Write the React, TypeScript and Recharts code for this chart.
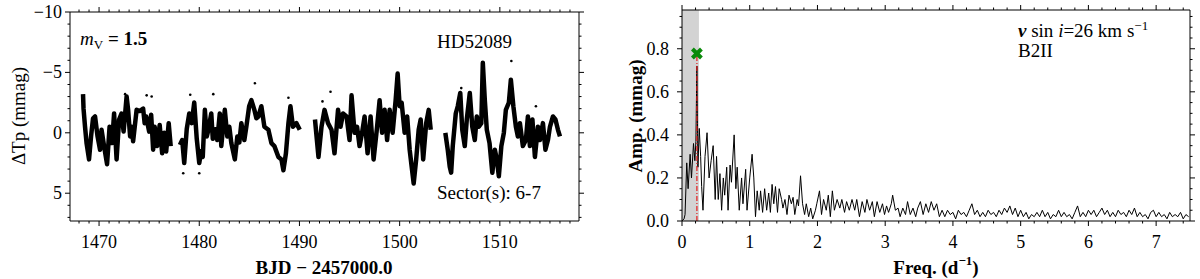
import {
  ComposedChart,
  Line,
  Scatter,
  XAxis,
  YAxis,
  ReferenceArea,
  ReferenceLine,
} from "recharts";

const SERIF = '"Liberation Serif", "DejaVu Serif", "Times New Roman", serif';

// light curve, BJD - 2457000 vs delta Tp (mmag), one array per orbit
const SEG_1: [number, number][] = [
  [1468.4, -3.2], [1468.45, -2.0], [1468.6, -0.5], [1468.76, 0.9], [1469.0, 2.2],
  [1469.2, 0.3], [1469.4, -1.2], [1469.6, -1.35], [1469.85, 0.3], [1470.1, 1.4],
  [1470.25, -0.25], [1470.5, 1.1], [1470.8, 2.6], [1471.05, -0.5], [1471.3, 0.85],
  [1471.5, -1.6], [1471.75, 2.2], [1472.0, -1.1], [1472.25, -1.6], [1472.45, -0.1],
  [1472.75, -3.0], [1472.9, -1.9], [1473.1, 0.3], [1473.25, -0.5], [1473.4, 0.7],
  [1473.75, -1.9], [1474.05, -1.8], [1474.4, -2.0], [1474.55, -0.8], [1474.7, -1.35],
  [1475.0, -0.1], [1475.2, -1.5], [1475.4, 1.4], [1475.55, -0.5], [1475.8, 1.1],
  [1476.05, -0.65], [1476.3, 1.7], [1476.5, 0], [1476.7, 1.55], [1476.95, -0.8],
  [1477.15, 1.1],
];
const SEG_2: [number, number][] = [
  [1478.07, 1.0], [1478.3, 0.6], [1478.5, 2.5], [1478.75, -0.3], [1479.0, -1.6],
  [1479.25, -0.8], [1479.5, -2.5], [1479.75, 0.5], [1480.0, 2.5], [1480.2, 1.5],
  [1480.35, 2.0], [1480.56, -1.9], [1480.75, 0.3], [1480.9, -0.2], [1481.2, -1.6],
  [1481.35, 0.5], [1481.6, -0.3], [1481.8, 0.6], [1482.05, -1.6], [1482.2, 1.1],
  [1482.35, -0.2], [1482.55, -1.9], [1482.8, 0.3], [1483.0, -0.5], [1483.2, 0.85],
  [1483.55, 2.2], [1483.8, 0.3], [1484.0, 0.8], [1484.2, -0.8], [1484.5, 0.6],
  [1484.7, -0.5], [1484.98, -2.2], [1485.2, -2.7], [1485.5, -1.9], [1485.7, -1.2],
  [1485.9, -1.35], [1486.2, -2.2], [1486.5, -0.5], [1486.9, -0.25], [1487.2, 0.85],
  [1487.5, 1.1], [1487.9, 2.0], [1488.2, 2.2], [1488.4, 3.1], [1488.65, 1.7],
  [1488.9, -0.8], [1489.1, -2.2], [1489.35, -0.5], [1489.7, -0.8], [1490.03, -0.25],
];
const SEG_3: [number, number][] = [
  [1491.55, -1.1], [1491.9, 2.0], [1492.2, -0.5], [1492.5, -1.9], [1492.85, -0.8],
  [1493.2, -0.25], [1493.5, 1.7], [1493.85, -1.9], [1494.1, -0.5], [1494.35, -1.6],
  [1494.7, -1.35], [1495.0, 0.6], [1495.2, -3.1], [1495.5, 0], [1495.75, -0.5],
  [1496.0, 1.1], [1496.25, 0], [1496.5, -1.35], [1496.8, 1.7], [1497.1, -1.35],
  [1497.4, 2.2], [1497.75, -0.5], [1498.0, -2.7], [1498.25, 0], [1498.5, -1.9],
  [1498.75, 0.6], [1499.0, -1.9], [1499.3, 0], [1499.6, -2.7], [1499.8, -4.9],
  [1500.0, -2.2], [1500.2, -2.5], [1500.5, 0], [1500.75, -1.35], [1501.0, 1.4],
  [1501.2, 2.8], [1501.4, 4.2], [1501.65, 2.2], [1501.9, -0.25], [1502.1, -1.1],
  [1502.35, 2.2], [1502.65, -0.8], [1502.9, -1.9], [1503.1, -0.25],
];
const SEG_4: [number, number][] = [
  [1504.56, 0], [1504.8, 1.4], [1505.0, 2.8], [1505.14, 3.3], [1505.3, 1.1],
  [1505.6, -1.6], [1505.8, -2.2], [1506.05, -3.3], [1506.25, -0.25], [1506.5, 1.1],
  [1506.7, -1.1], [1507.0, -3.3], [1507.25, -0.5], [1507.5, 0.6], [1507.7, -1.35],
  [1507.9, -0.5], [1508.15, -0.8], [1508.3, -5.8], [1508.5, -2.7], [1508.7, -0.25],
  [1508.97, 0.85], [1509.25, 3.3], [1509.5, 1.4], [1509.7, 2.2], [1509.9, 3.6],
  [1510.15, 1.1], [1510.4, 0], [1510.6, -1.9], [1510.9, -2.5], [1511.1, -4.4],
  [1511.35, -2.2], [1511.6, -0.5], [1511.8, 0.3], [1512.0, -0.8], [1512.3, 1.1],
  [1512.6, 0.6], [1512.8, -1.35], [1513.0, 1.1], [1513.25, -1.1], [1513.5, 2.0],
  [1513.8, -0.5], [1514.0, 0.6], [1514.3, -0.8], [1514.55, 1.4], [1514.8, 0.6],
  [1515.0, -0.5], [1515.3, -1.35], [1515.55, -1.1], [1515.8, -0.25], [1516.0, 0.3],
];
// isolated points away from the band
const OUTLIERS: [number, number][] = [
  [1472.6, -3.2], [1474.75, -3.1], [1475.25, -3.0], [1478.4, 3.35], [1479.1, -3.15],
  [1480.0, 3.35], [1481.4, -3.2], [1485.55, -4.1], [1488.9, -2.9], [1492.3, -2.6],
  [1493.1, -3.4], [1506.15, -3.7], [1511.15, -5.95], [1513.6, -2.2],
];

// amplitude spectrum, frequency (1/d) vs amplitude (mmag)
const SPEC_LOW: [number, number][] = [
  [0, 0], [0.03, 0.01], [0.045, 0.03], [0.07, 0.27], [0.09, 0.15], [0.12, 0.31],
  [0.14, 0.2], [0.17, 0.36], [0.19, 0.28], [0.205, 0.37], [0.22, 0.72], [0.235, 0.25],
  [0.255, 0.43], [0.275, 0.3], [0.29, 0.16], [0.31, 0.05], [0.34, 0.3], [0.37, 0.41],
  [0.4, 0.2], [0.43, 0.28], [0.46, 0.35], [0.49, 0.1], [0.51, 0.3], [0.535, 0.1],
  [0.56, 0.22], [0.585, 0.05], [0.61, 0.2], [0.63, 0.12], [0.66, 0.25], [0.68, 0.05],
  [0.71, 0.26], [0.73, 0.18], [0.77, 0.4], [0.795, 0.15], [0.815, 0.25], [0.845, 0.05],
  [0.88, 0.2], [0.9, 0.08], [0.94, 0.24], [0.96, 0.05], [1.0, 0.2], [1.035, 0.31],
  [1.06, 0.2], [1.085, 0.02], [1.11, 0.14], [1.14, 0.05], [1.16, 0.14], [1.19, 0.04],
  [1.22, 0.15], [1.25, 0.05], [1.28, 0.13], [1.305, 0.04], [1.33, 0.17], [1.355, 0.08],
  [1.38, 0.16], [1.41, 0.04], [1.435, 0.15], [1.47, 0.1], [1.49, 0.06], [1.52, 0.1],
  [1.55, 0.03], [1.58, 0.12], [1.615, 0.08], [1.64, 0.11], [1.665, 0.03], [1.7, 0.1],
  [1.72, 0.07], [1.75, 0.21], [1.78, 0.08], [1.81, 0.03], [1.835, 0.08], [1.87, 0.02],
  [1.9, 0.06], [1.93, 0.01], [1.97, 0.05], [1.99, 0.08],
];
const SPEC_MID: [number, number][] = [
  [2.03, 0.14], [2.06, 0.03], [2.09, 0.1], [2.13, 0.05], [2.16, 0.12], [2.19, 0.02],
  [2.22, 0.14], [2.25, 0.05], [2.29, 0.1], [2.33, 0.06], [2.36, 0.1], [2.4, 0.04],
  [2.43, 0.09], [2.47, 0.05], [2.51, 0.1], [2.55, 0.05], [2.58, 0.1], [2.62, 0.02],
  [2.66, 0.09], [2.7, 0.04], [2.73, 0.1], [2.77, 0.05], [2.81, 0.09], [2.84, 0.02],
  [2.88, 0.09], [2.92, 0.04], [2.96, 0.08], [2.99, 0.03], [3.02, 0.07], [3.05, 0.04],
  [3.09, 0.08], [3.11, 0.12], [3.15, 0.05], [3.19, 0.06], [3.22, 0.02], [3.26, 0.06],
  [3.3, 0.03], [3.33, 0.09], [3.37, 0.03], [3.41, 0.06], [3.45, 0.02], [3.48, 0.06],
];
const SPEC_HIGH: [number, number][] = [
  [3.52, 0.09], [3.56, 0.03], [3.6, 0.08], [3.64, 0.04], [3.68, 0.09], [3.72, 0.05],
  [3.76, 0.08], [3.8, 0.02], [3.84, 0.05], [3.88, 0.02], [3.92, 0.05], [3.96, 0.03],
  [4.0, 0.04], [4.04, 0.01], [4.08, 0.05], [4.12, 0.03], [4.16, 0.04], [4.2, 0.02],
  [4.24, 0.05], [4.28, 0.08], [4.32, 0.03], [4.36, 0.05], [4.4, 0.02], [4.44, 0.04],
  [4.48, 0.02], [4.52, 0.05], [4.56, 0.03], [4.6, 0.04], [4.64, 0.02], [4.68, 0.05],
  [4.72, 0.03], [4.76, 0.06], [4.8, 0.04], [4.84, 0.07], [4.88, 0.03], [4.92, 0.06],
  [4.96, 0.02], [5.0, 0.05], [5.04, 0.02], [5.08, 0.04], [5.12, 0.01], [5.16, 0.03],
  [5.2, 0.02], [5.24, 0.04], [5.28, 0.02], [5.32, 0.05], [5.36, 0.02], [5.4, 0.04],
  [5.44, 0.01], [5.48, 0.03], [5.52, 0.02], [5.56, 0.05], [5.6, 0.02], [5.64, 0.04],
  [5.68, 0.02], [5.72, 0.03], [5.76, 0.01], [5.8, 0.04], [5.84, 0.07], [5.88, 0.02],
  [5.92, 0.04], [5.96, 0.02], [6.0, 0.05], [6.04, 0.03], [6.08, 0.05], [6.12, 0.02],
  [6.16, 0.04], [6.2, 0.06], [6.24, 0.03], [6.28, 0.05], [6.32, 0.02], [6.36, 0.04],
  [6.4, 0.02], [6.44, 0.05], [6.48, 0.03], [6.52, 0.04], [6.56, 0.02], [6.6, 0.05],
  [6.64, 0.03], [6.68, 0.06], [6.72, 0.02], [6.76, 0.04], [6.8, 0.02], [6.84, 0.03],
  [6.88, 0.01], [6.92, 0.04], [6.96, 0.05], [7.0, 0.02], [7.04, 0.04], [7.08, 0.02],
  [7.12, 0.03], [7.16, 0.01], [7.2, 0.04], [7.24, 0.02], [7.28, 0.03], [7.32, 0.02],
  [7.36, 0.04], [7.4, 0.01], [7.44, 0.03], [7.48, 0.02],
];
const PEAK: [number, number] = [0.22, 0.778];
const LOW_FREQ_LIMIT = 0.25;

const LC_X_MAJOR = [1470, 1480, 1490, 1500, 1510];
const LC_Y_MAJOR = [-10, -5, 0, 5];
const SP_X_MAJOR = [0, 1, 2, 3, 4, 5, 6, 7];
const SP_Y_MAJOR = [0, 0.2, 0.4, 0.6, 0.8];

function range(a: number, b: number, step: number) {
  const out: number[] = [];
  for (let i = 0; a + i * step <= b + 1e-9; i++) out.push(+(a + i * step).toFixed(4));
  return out;
}

const lcRows = [SEG_1, SEG_2, SEG_3, SEG_4].flatMap((seg, i, all) => {
  const rows: { t: number; v: number | null }[] = seg.map(([t, v]) => ({ t, v }));
  if (i < all.length - 1) rows.push({ t: (seg[seg.length - 1][0] + all[i + 1][0][0]) / 2, v: null });
  return rows;
});
const outlierRows = OUTLIERS.map(([t, v]) => ({ t, v }));
const specRows = [...SPEC_LOW, ...SPEC_MID, ...SPEC_HIGH].map(([f, a]) => ({ f, a }));

const labelStyle = { fontFamily: SERIF, fontSize: 18, fill: "#000" };

function makeTick(
  side: "bottom" | "top" | "left" | "right",
  majors: number[],
  fmt?: (v: number) => string,
  gap = 8
) {
  return (props: any) => {
    const { x, y, payload } = props;
    const v = payload.value as number;
    const major = majors.some((m) => Math.abs(m - v) < 1e-6);
    const len = major ? 5 : 2.5;
    let line;
    if (side === "bottom") line = <line x1={x} x2={x} y1={y} y2={y + len} />;
    else if (side === "top") line = <line x1={x} x2={x} y1={y} y2={y - len} />;
    else if (side === "left") line = <line x1={x} x2={x - len} y1={y} y2={y} />;
    else line = <line x1={x} x2={x + len} y1={y} y2={y} />;
    return (
      <g>
        <g stroke="#000" strokeWidth={1}>{line}</g>
        {major && fmt && side === "bottom" && (
          <text x={x} y={y + 21} textAnchor="middle" dominantBaseline="central" style={labelStyle}>
            {fmt(v)}
          </text>
        )}
        {major && fmt && side === "left" && (
          <text x={x - gap} y={y} textAnchor="end" dominantBaseline="central" style={labelStyle}>
            {fmt(v)}
          </text>
        )}
      </g>
    );
  };
}

const minus = (v: number) => (v < 0 ? "\u2212" + Math.abs(v) : String(v));
const axisCommon = { tickSize: 0, tickMargin: 0, tickLine: false, interval: 0 as const, axisLine: { stroke: "#000" } };

function LightCurve() {
  const xTicks = range(1468, 1517, 1);
  const yTicks = range(-10, 7, 1);
  return (
    <ComposedChart width={600} height={279} data={lcRows} margin={{ top: 10, right: 11, bottom: 28, left: 10 }}>
      <XAxis dataKey="t" type="number" domain={[1467.1, 1517.9]} allowDataOverflow ticks={xTicks} height={30} {...axisCommon} tick={makeTick("bottom", LC_X_MAJOR, String)} />
      <XAxis xAxisId="top" orientation="top" dataKey="t" type="number" domain={[1467.1, 1517.9]} allowDataOverflow ticks={xTicks} height={2} {...axisCommon} tick={makeTick("top", LC_X_MAJOR)} />
      <YAxis type="number" reversed domain={[-10, 7.3]} allowDataOverflow ticks={yTicks} width={60} {...axisCommon} tick={makeTick("left", LC_Y_MAJOR, minus, 8)} />
      <YAxis yAxisId="right" orientation="right" type="number" reversed domain={[-10, 7.3]} allowDataOverflow ticks={yTicks} width={10} {...axisCommon} tick={makeTick("right", LC_Y_MAJOR)} />
      <Line dataKey="v" stroke="#000" strokeWidth={4.5} strokeLinejoin="round" dot={false} connectNulls={false} isAnimationActive={false} />
      <Scatter data={outlierRows} dataKey="v" isAnimationActive={false} shape={(p: any) => <circle cx={p.cx} cy={p.cy} r={1.3} fill="#000" />} />
    </ComposedChart>
  );
}

function Spectrum() {
  const xTicks = range(0, 7.4, 0.2);
  const yTicks = range(0, 0.95, 0.05);
  return (
    <ComposedChart width={600} height={279} data={specRows} margin={{ top: 8, right: 0, bottom: 28, left: 22 }}>
      <XAxis dataKey="f" type="number" domain={[0, 7.5]} allowDataOverflow ticks={xTicks} height={30} {...axisCommon} tick={makeTick("bottom", SP_X_MAJOR, String)} />
      <XAxis xAxisId="top" orientation="top" dataKey="f" type="number" domain={[0, 7.5]} allowDataOverflow ticks={xTicks} height={2} {...axisCommon} tick={makeTick("top", SP_X_MAJOR)} />
      <YAxis type="number" domain={[0, 0.98]} allowDataOverflow ticks={yTicks} width={60} {...axisCommon} tick={makeTick("left", SP_Y_MAJOR, (v) => v.toFixed(1), 13)} />
      <YAxis yAxisId="right" orientation="right" type="number" domain={[0, 0.98]} allowDataOverflow ticks={yTicks} width={10} {...axisCommon} tick={makeTick("right", SP_Y_MAJOR)} />
      <ReferenceArea x1={0} x2={LOW_FREQ_LIMIT} y1={0} y2={0.98} fill="#d3d3d3" fillOpacity={1} stroke="none" />
      <Line dataKey="a" stroke="#000" strokeWidth={1} dot={false} isAnimationActive={false} />
      <ReferenceLine
        segment={[{ x: PEAK[0], y: 0 }, { x: PEAK[0], y: PEAK[1] }]}
        stroke="#e41a1c"
        strokeWidth={1.2}
        strokeDasharray="5 2 1 2"
      />
      <Scatter
        data={[{ f: PEAK[0], a: PEAK[1] }]}
        dataKey="a"
        isAnimationActive={false}
        shape={(p: any) => (
          <g stroke="#0a8a0a" strokeWidth={4}>
            <line x1={p.cx - 4.5} y1={p.cy - 4.5} x2={p.cx + 4.5} y2={p.cy + 4.5} />
            <line x1={p.cx - 4.5} y1={p.cy + 4.5} x2={p.cx + 4.5} y2={p.cy - 4.5} />
          </g>
        )}
      />
    </ComposedChart>
  );
}

export default function App() {
  const t = { style: { fontFamily: SERIF, fill: "#000" } };
  return (
    <div style={{ position: "absolute", left: 0, top: 0, width: 1200, height: 279, background: "#fff" }}>
      <div style={{ position: "absolute", left: 0, top: 0 }}>
        <LightCurve />
      </div>
      <div style={{ position: "absolute", left: 600, top: 0 }}>
        <Spectrum />
      </div>
      <svg width={1200} height={279} style={{ position: "absolute", left: 0, top: 0, pointerEvents: "none" }}>
        <text {...t} x={18} y={116} fontSize={19} textAnchor="middle" dominantBaseline="central" transform="rotate(-90 18 116)">
          ΔTp (mmag)
        </text>
        <text {...t} x={324} y={267} fontSize={19} fontWeight="bold" textAnchor="middle" dominantBaseline="central">
          BJD − 2457000.0
        </text>
        <text {...t} x={80} y={45} fontSize={19}>
          <tspan fontStyle="italic">m</tspan>
          <tspan fontSize={13} dy={4}>V</tspan>
          <tspan dy={-4} fontWeight="bold"> = 1.5</tspan>
        </text>
        <text {...t} x={437} y={48} fontSize={19}>HD52089</text>
        <text {...t} x={437} y={199} fontSize={19}>Sector(s): 6-7</text>

        <text {...t} x={635} y={116} fontSize={19} fontWeight="bold" textAnchor="middle" dominantBaseline="central" transform="rotate(-90 635 116)">
          Amp. (mmag)
        </text>
        <text {...t} x={936} y={267} fontSize={19} fontWeight="bold" textAnchor="middle" dominantBaseline="central">
          Freq. (d<tspan fontSize={13} dy={-7}>−1</tspan><tspan dy={7}>)</tspan>
        </text>
        <text {...t} x={1018} y={37} fontSize={19}>
          <tspan fontStyle="italic" fontWeight="bold">v</tspan> sin <tspan fontStyle="italic">i</tspan>=26 km s<tspan fontSize={13} dy={-7}>−1</tspan>
        </text>
        <text {...t} x={1018} y={57} fontSize={19}>B2II</text>
      </svg>
    </div>
  );
}
